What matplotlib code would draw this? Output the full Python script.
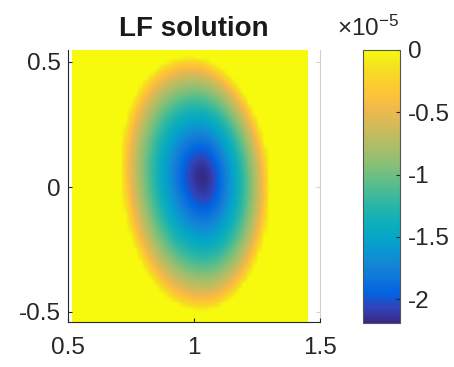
import numpy as np
import matplotlib
matplotlib.use('Agg')
import matplotlib.pyplot as plt
from matplotlib.colors import LinearSegmentedColormap

plt.rcParams['font.family'] = ['Liberation Sans', 'DejaVu Sans']
plt.rcParams['axes.unicode_minus'] = False
plt.rcParams['mathtext.fontset'] = 'custom'
plt.rcParams['mathtext.rm'] = 'Liberation Sans'
plt.rcParams['mathtext.it'] = 'Liberation Sans'

# MATLAB parula (every 4th entry of the 64 colour table)
parula_colors = [
    (0.2081, 0.1663, 0.5292), (0.1959, 0.2645, 0.7279), (0.0117, 0.3875, 0.8820),
    (0.0498, 0.4586, 0.8641), (0.0793, 0.5200, 0.8312), (0.0343, 0.5966, 0.8199),
    (0.0228, 0.6535, 0.7768), (0.0590, 0.6838, 0.7254), (0.1453, 0.7098, 0.6646),
    (0.2586, 0.7317, 0.5954), (0.3953, 0.7459, 0.5244), (0.5300, 0.7491, 0.4661),
    (0.6473, 0.7456, 0.4188), (0.7525, 0.7384, 0.3768), (0.8507, 0.7299, 0.3360),
    (0.9450, 0.7261, 0.2886), (0.9990, 0.7653, 0.2164), (0.9789, 0.8271, 0.1633),
    (0.9589, 0.8949, 0.1132), (0.9763, 0.9831, 0.0538),
]
parula = LinearSegmentedColormap.from_list('parula', parula_colors)

# field (values in units of 1e-5)
x_range = [0.5175, 1.452]
y_range = [-0.54, 0.548]
n_x, n_y = 46, 54
center_x, center_y = 1.036, 0.041
semi_left, semi_right = 0.33, 0.27
semi_top, semi_bottom = 0.49, 0.545
bend = [-0.053, -0.099]  # horizontal shift of the well with height
core = 0.18              # rounds off the bottom of the well
min_value = -2.186
profile_exp = 0.75

xticks = [0.5, 1, 1.5]
yticks = [-0.5, 0, 0.5]
cbar_ticks = [0, -0.5, -1, -1.5, -2]
cbar_labels = ['0', '-0.5', '-1', '-1.5', '-2']

xs = np.linspace(x_range[0], x_range[1], n_x)
ys = np.linspace(y_range[0], y_range[1], n_y)
X, Y = np.meshgrid(xs, ys)
dy = Y - center_y
u = X - (center_x + bend[0] * dy + bend[1] * dy ** 2)
sx = np.where(u < 0, semi_left, semi_right)
sy = np.where(dy > 0, semi_top, semi_bottom)
r = np.sqrt((u / sx) ** 2 + (dy / sy) ** 2)
r = (np.sqrt(r ** 2 + core ** 2) - core) / (np.sqrt(1 + core ** 2) - core)
Z = min_value * np.clip(1 - r, 0, None) ** profile_exp

fig = plt.figure(figsize=(4.54, 3.67), dpi=100)
ax = fig.add_axes([68 / 454, 45 / 367, 252 / 454, 272 / 367])
im = ax.imshow(Z, cmap=parula, origin='lower', aspect='auto', interpolation='bilinear',
               extent=[x_range[0], x_range[1], y_range[0], y_range[1]],
               vmin=min_value, vmax=0)
ax.set_xlim(0.5, 1.5)
ax.set_ylim(y_range[0], y_range[1])
ax.set_xticks(xticks)
ax.set_xticklabels(['0.5', '1', '1.5'])
ax.set_yticks(yticks)
ax.set_yticklabels(['-0.5', '0', '0.5'])
ax.tick_params(direction='in', length=3, labelsize=17.5, colors='#262626')
ax.tick_params(axis='x', pad=11)
ax.tick_params(axis='y', pad=5)
for s in ['left', 'bottom']:
    ax.spines[s].set_color('#262626')
ax.spines['top'].set_visible(False)
ax.spines['right'].set_visible(False)
sec = ax.secondary_yaxis('right')
sec.set_yticks(yticks)
sec.tick_params(direction='in', length=3, colors='#d0d0d0', labelright=False)
sec.spines['right'].set_color('#d0d0d0')
ax.set_title('LF solution', fontsize=20, fontweight='bold', pad=10, color='#1a1a1a')

cax = fig.add_axes([363 / 454, 44.5 / 367, 37 / 454, 272.5 / 367])
cb = fig.colorbar(im, cax=cax)
cb.set_ticks(cbar_ticks)
cb.set_ticklabels(cbar_labels)
cb.ax.tick_params(direction='in', length=3, labelsize=17.5, colors='#262626', pad=6)
cb.outline.set_edgecolor('#555555')
fig.text(399 / 454, 1 - 36 / 367, r'$\times10^{-5}$', fontsize=17.5, color='#262626',
         ha='right', va='baseline')

fig.savefig('out.png', dpi=100)
